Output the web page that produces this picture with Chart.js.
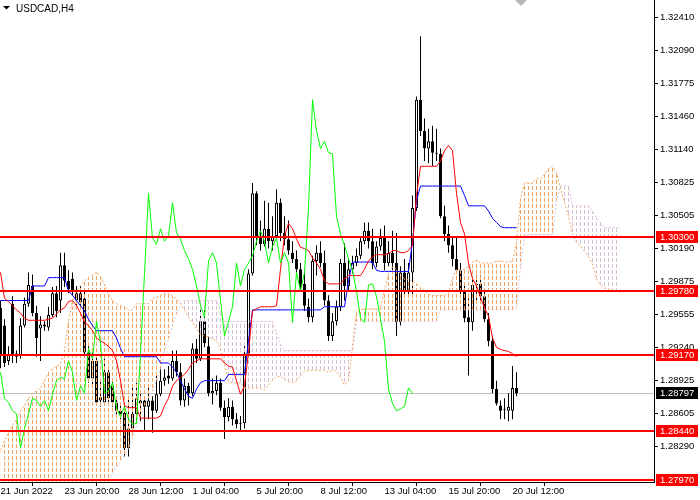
<!DOCTYPE html>
<html>
<head>
<meta charset="utf-8">
<title>USDCAD,H4</title>
<script src="https://cdn.jsdelivr.net/npm/chart.js@4.4.1/dist/chart.umd.min.js"></script>
<style>
  html, body { margin: 0; padding: 0; background: #fff; }
  canvas { display: block; }
</style>
</head>
<body>
<canvas id="chart" width="700" height="500"></canvas>
<script>
// ---- data ----
const symbol = 'USDCAD,H4';
const xTickIdx = [0, 16, 32, 48, 64, 80, 96, 112, 128];
const xTickLabels = ['21 Jun 2022', '23 Jun 20:00', '28 Jun 12:00', '1 Jul 04:00', '5 Jul 20:00',
                     '8 Jul 12:00', '13 Jul 04:00', '15 Jul 20:00', '20 Jul 12:00'];
const yTicks = [1.32410, 1.32090, 1.31775, 1.31460, 1.31140, 1.30825, 1.30505,
                1.30190, 1.29875, 1.29555, 1.29240, 1.28925, 1.28605, 1.28290];
const levels = [1.30300, 1.29780, 1.29170, 1.28440, 1.27970];
const bid = 1.28797;

const opens = [
  1.2962,1.2945,1.2911,1.2966,1.2915,1.2916,1.2945,1.2966,1.2983,1.2957,
  1.2942,1.2944,1.2943,1.2955,1.2976,1.2969,1.3003,1.2988,1.2990,1.2969,
  1.2976,1.2971,1.2919,1.2894,1.2911,1.2873,1.2871,1.2900,1.2887,1.2871,
  1.2863,1.2861,1.2827,1.2846,1.2860,1.2870,1.2873,1.2867,1.2873,1.2863,
  1.2879,1.2892,1.2897,1.2894,1.2911,1.2900,1.2873,1.2887,1.2880,1.2923,
  1.2913,1.2949,1.2925,1.2880,1.2882,1.2890,1.2866,1.2857,1.2867,1.2855,
  1.2850,1.2851,1.2918,1.2995,1.3072,1.3029,1.3023,1.3038,1.3026,1.3031,
  1.3063,1.3034,1.3028,1.3015,1.3009,1.2999,1.2985,1.2963,1.2953,1.3007,
  1.3015,1.3005,1.2969,1.2935,1.2949,1.2963,1.3005,1.2983,1.2999,1.3005,
  1.3012,1.3026,1.3036,1.3026,1.3005,1.3021,1.3029,1.3005,1.3015,1.3005,
  1.2948,1.2996,1.2978,1.2996,1.3058,1.3162,1.3132,1.3115,1.3122,1.3111,
  1.3110,1.3050,1.3033,1.3022,1.3009,1.2998,1.2978,1.2953,1.2948,1.2984,
  1.2985,1.2973,1.2951,1.2930,1.2884,1.2868,1.2864,1.2863,1.2863,1.2885];
const highs = [
  1.2969,1.2951,1.2925,1.2973,1.2921,1.2952,1.2972,1.2996,1.2994,1.2964,
  1.2954,1.2949,1.2963,1.2982,1.2983,1.3015,1.3015,1.2998,1.2996,1.2983,
  1.2983,1.2978,1.2925,1.2919,1.2916,1.2892,1.2913,1.2906,1.2894,1.2877,
  1.2868,1.2868,1.2877,1.2887,1.2890,1.2880,1.2877,1.2885,1.2877,1.2897,
  1.2906,1.2903,1.2906,1.2921,1.2921,1.2909,1.2894,1.2890,1.2928,1.2932,
  1.2964,1.2964,1.2935,1.2894,1.2897,1.2894,1.2873,1.2875,1.2873,1.2861,
  1.2858,1.2925,1.2999,1.3082,1.3074,1.3046,1.3065,1.3063,1.3050,1.3076,
  1.3067,1.3050,1.3046,1.3026,1.3017,1.3005,1.2998,1.2971,1.3012,1.3022,
  1.3026,1.3017,1.2974,1.2957,1.2969,1.3009,1.3024,1.3009,1.3012,1.3019,
  1.3030,1.3044,1.3044,1.3038,1.3026,1.3038,1.3041,1.3026,1.3036,1.3034,
  1.3002,1.3009,1.3005,1.3070,1.3165,1.3223,1.3144,1.3134,1.3137,1.3134,
  1.3115,1.3060,1.3041,1.3031,1.3031,1.3005,1.2986,1.2971,1.2990,1.2993,
  1.2993,1.2978,1.2957,1.2935,1.2892,1.2873,1.2875,1.2880,1.2906,1.2900];
const lows = [
  1.2904,1.2905,1.2907,1.2909,1.2909,1.2913,1.2943,1.2963,1.2954,1.2915,
  1.2911,1.2940,1.2940,1.2953,1.2953,1.2957,1.2982,1.2976,1.2974,1.2964,
  1.2963,1.2915,1.2890,1.2886,1.2868,1.2867,1.2868,1.2870,1.2867,1.2858,
  1.2855,1.2819,1.2819,1.2842,1.2853,1.2853,1.2844,1.2855,1.2842,1.2861,
  1.2877,1.2887,1.2889,1.2892,1.2896,1.2868,1.2867,1.2868,1.2877,1.2909,
  1.2911,1.2924,1.2877,1.2869,1.2878,1.2863,1.2836,1.2853,1.2849,1.2846,
  1.2844,1.2846,1.2916,1.2993,1.3022,1.3017,1.3021,1.3019,1.3017,1.3028,
  1.3026,1.3022,1.3013,1.3005,1.2996,1.2978,1.2959,1.2948,1.2948,1.2993,
  1.3001,1.2964,1.2930,1.2930,1.2945,1.2959,1.2969,1.2978,1.2995,1.3002,
  1.3009,1.3023,1.3019,1.2999,1.3001,1.3017,1.2998,1.3002,1.2996,1.2935,
  1.2945,1.2973,1.2974,1.2974,1.3055,1.3127,1.3103,1.3101,1.3098,1.3103,
  1.3048,1.3026,1.3015,1.3002,1.2996,1.2974,1.2948,1.2897,1.2940,1.2969,
  1.2969,1.2948,1.2925,1.2880,1.2868,1.2855,1.2855,1.2853,1.2855,1.2877];
const closes = [
  1.2916,1.2909,1.2917,1.2916,1.2918,1.2945,1.2966,1.2984,1.2957,1.2933,
  1.2946,1.2946,1.2955,1.2976,1.2959,1.3003,1.2988,1.2980,1.2978,1.2976,
  1.2967,1.2919,1.2894,1.2911,1.2871,1.2876,1.2900,1.2875,1.2871,1.2863,
  1.2860,1.2827,1.2846,1.2860,1.2875,1.2873,1.2867,1.2873,1.2863,1.2879,
  1.2892,1.2895,1.2894,1.2911,1.2900,1.2873,1.2887,1.2880,1.2923,1.2913,
  1.2949,1.2928,1.2880,1.2882,1.2890,1.2866,1.2857,1.2867,1.2855,1.2850,
  1.2851,1.2918,1.2995,1.3072,1.3029,1.3023,1.3038,1.3026,1.3031,1.3063,
  1.3034,1.3028,1.3017,1.3009,1.2999,1.2983,1.2964,1.2953,1.3007,1.3015,
  1.3005,1.2969,1.2935,1.2949,1.2963,1.3005,1.2983,1.2999,1.3005,1.3012,
  1.3026,1.3036,1.3026,1.3005,1.3021,1.3029,1.3005,1.3015,1.3005,1.2948,
  1.2996,1.2978,1.2996,1.3058,1.3162,1.3132,1.3115,1.3122,1.3111,1.3110,
  1.3050,1.3033,1.3022,1.3009,1.2998,1.2978,1.2952,1.2948,1.2984,1.2985,
  1.2973,1.2951,1.2930,1.2884,1.2870,1.2863,1.2865,1.2867,1.2885,1.28797];

// Ichimoku lines as drawn
const tenkan = [
  1.2996,1.2971,1.2968,1.2964,1.2960,1.2957,1.2952,1.2950,1.2950,1.2950,
  1.2950,1.2950,1.2951,1.2952,1.2956,1.2960,1.2962,1.2968,1.2969,1.2964,
  1.2957,1.2948,1.2945,1.2940,1.2933,1.2930,1.2928,1.2925,1.2921,1.2911,
  1.2892,1.2868,1.2866,1.2866,1.2866,1.2856,1.2856,1.2856,1.2856,1.2856,
  1.2858,1.2868,1.2875,1.2887,1.2892,1.2895,1.2898,1.2903,1.2909,1.2911,
  1.2913,1.2913,1.2913,1.2913,1.2913,1.2913,1.2909,1.2906,1.2905,1.2892,
  1.2879,1.2887,1.2919,1.2959,1.2961,1.2963,1.2963,1.2963,1.2963,1.2964,
  1.2999,1.3031,1.3043,1.3038,1.3028,1.3020,1.3019,1.3017,1.3010,1.3005,
  1.2999,1.2988,1.2985,1.2985,1.2985,1.2985,1.2990,1.2993,1.2993,1.2993,
  1.2993,1.2999,1.3007,1.3011,1.3013,1.3013,1.3013,1.3014,1.3017,1.3017,
  1.3015,1.3015,1.3017,1.3022,1.3070,1.3098,1.3098,1.3098,1.3098,1.3098,
  1.3103,1.3113,1.3118,1.3113,1.3072,1.3044,1.3033,1.3005,1.2990,1.2983,
  1.2972,1.2962,1.2954,1.2933,1.2924,1.2922,1.2921,1.2920,1.2918,1.2915];
const kijun = [
  1.2969,1.2969,1.2969,1.2969,1.2969,1.2969,1.2969,1.2969,1.2983,1.2983,
  1.2983,1.2983,1.2991,1.2991,1.2991,1.2991,1.2991,1.2978,1.2974,1.2969,
  1.2964,1.2959,1.2951,1.2945,1.2940,1.2940,1.2940,1.2940,1.2940,1.2933,
  1.2923,1.2915,1.2915,1.2915,1.2915,1.2915,1.2915,1.2915,1.2915,1.2915,
  1.2909,1.2909,1.2909,1.2905,1.2900,1.2892,1.2884,1.2877,1.2875,1.2884,
  1.2890,1.2892,1.2892,1.2892,1.2892,1.2892,1.2892,1.2898,1.2898,1.2898,
  1.2898,1.2898,1.2930,1.2960,1.2960,1.2960,1.2960,1.2960,1.2960,1.2960,
  1.2960,1.2960,1.2960,1.2960,1.2960,1.2960,1.2960,1.2960,1.2960,1.2960,
  1.2960,1.2963,1.2963,1.2963,1.2963,1.2963,1.2963,1.2988,1.3006,1.3006,
  1.3006,1.3006,1.3006,1.3006,1.2998,1.2997,1.2997,1.2997,1.2997,1.2997,
  1.2997,1.2997,1.2997,1.3026,1.3065,1.3079,1.3079,1.3079,1.3079,1.3079,
  1.3079,1.3079,1.3079,1.3079,1.3079,1.3079,1.3070,1.3060,1.3060,1.3060,
  1.3060,1.3060,1.3055,1.3048,1.3044,1.3040,1.3039,1.3039,1.3039,1.3039];
// cloud edges, 26 bars run past the last candle
const spanA = [
  1.2825,1.2834,1.2842,1.2849,1.2855,1.2863,1.2868,1.2875,1.2880,1.2882,
  1.2885,1.2892,1.2900,1.2903,1.2906,1.2908,1.2921,1.2949,1.2969,1.2978,
  1.2983,1.2988,1.2991,1.2994,1.2996,1.2992,1.2984,1.2975,1.2969,1.2966,
  1.2964,1.2963,1.2960,1.2960,1.2966,1.2966,1.2966,1.2966,1.2971,1.2972,
  1.2974,1.2976,1.2976,1.2973,1.2971,1.2966,1.2960,1.2953,1.2948,1.2942,
  1.2936,1.2935,1.2934,1.2932,1.2930,1.2922,1.2907,1.2891,1.2890,1.2890,
  1.2890,1.2885,1.2885,1.2885,1.2885,1.2885,1.2883,1.2888,1.2892,1.2896,
  1.2896,1.2893,1.2891,1.2890,1.2892,1.2897,1.2901,1.2902,1.2902,1.2902,
  1.2902,1.2902,1.2900,1.2902,1.2901,1.2895,1.2888,1.2892,1.2924,1.2959,
  1.2960,1.2961,1.2961,1.2961,1.2961,1.2962,1.2979,1.2995,1.3001,1.2999,
  1.2994,1.2990,1.2989,1.2988,1.2985,1.2982,1.2979,1.2975,1.2974,1.2974,
  1.2974,1.2974,1.2976,1.2990,1.2999,1.2999,1.2999,1.3002,1.3006,1.3008,
  1.3005,1.3005,1.3005,1.3005,1.3007,1.3007,1.3006,1.3006,1.3007,1.3024,
  1.3067,1.3082,1.3082,1.3082,1.3086,1.3086,1.3090,1.3096,1.3098,1.3092,
  1.3077,1.3063,1.3050,1.3033,1.3025,1.3021,1.3016,1.3011,1.3004,1.2990,
  1.2984,1.2981,1.2980,1.2979,1.2978,1.2977];
const spanB = [
  1.2785,1.2785,1.2785,1.2785,1.2785,1.2785,1.2785,1.2785,1.2785,1.2785,
  1.2785,1.2785,1.2785,1.2785,1.2785,1.2785,1.2785,1.2785,1.2785,1.2785,
  1.2785,1.2785,1.2785,1.2785,1.2785,1.2785,1.2785,1.2794,1.2803,1.2809,
  1.2815,1.2820,1.2827,1.2837,1.2849,1.2858,1.2868,1.2875,1.2882,1.2892,
  1.2903,1.2921,1.2932,1.2945,1.2956,1.2966,1.2969,1.2969,1.2969,1.2969,
  1.2969,1.2969,1.2969,1.2969,1.2969,1.2959,1.2949,1.2949,1.2949,1.2949,
  1.2949,1.2949,1.2949,1.2949,1.2949,1.2949,1.2949,1.2949,1.2949,1.2938,
  1.2927,1.2921,1.2921,1.2921,1.2921,1.2921,1.2921,1.2921,1.2921,1.2921,
  1.2921,1.2921,1.2921,1.2921,1.2921,1.2921,1.2921,1.2921,1.2921,1.2949,
  1.2949,1.2949,1.2949,1.2949,1.2949,1.2949,1.2949,1.2949,1.2949,1.2949,
  1.2949,1.2949,1.2949,1.2949,1.2949,1.2949,1.2949,1.2949,1.2949,1.2949,
  1.2960,1.2960,1.2960,1.2960,1.2960,1.2960,1.2960,1.2960,1.2960,1.2960,
  1.2960,1.2960,1.2960,1.2960,1.2960,1.2960,1.2960,1.2960,1.2960,1.2962,
  1.3002,1.3032,1.3032,1.3032,1.3032,1.3032,1.3032,1.3032,1.3032,1.3065,
  1.3079,1.3079,1.3079,1.3060,1.3060,1.3060,1.3060,1.3060,1.3055,1.3048,
  1.3044,1.3039,1.3039,1.3039,1.3039,1.3039];
const chikouShift = 26;

// ---- chart ----
const canvas = document.getElementById('chart');
const ctx = canvas.getContext('2d');

// vertical dashed hatch, one stroke per bar (4px apart)
function hatch(color) {
  const tile = document.createElement('canvas');
  tile.width = 4; tile.height = 6;
  const g = tile.getContext('2d');
  g.fillStyle = color;
  g.fillRect(0, 0, 1, 4);
  return ctx.createPattern(tile, 'repeat');
}

const pts = arr => arr.map((v, i) => ({ x: i, y: v }));
const wicks = closes.map((_, i) => ({ x: i, y: [lows[i], highs[i]] }));
const bodies = closes.map((c, i) => ({ x: i, y: [opens[i], c] }));
const bodyFill = closes.map((c, i) => (c >= opens[i] ? '#ffffff' : '#000000'));
const chikou = closes.slice(chikouShift).map((v, j) => ({ x: j, y: v }));

Chart.defaults.font.family = '"Liberation Sans", Arial, sans-serif';
Chart.defaults.font.size = 9.5;
Chart.defaults.color = '#000';

const overlay = {
  id: 'overlay',
  beforeDatasetsDraw(chart) {
    const { ctx, chartArea: a, scales: { y } } = chart;
    const py = Math.round(y.getPixelForValue(bid)) + 0.5;
    ctx.save();
    ctx.strokeStyle = '#c0c0c0';
    ctx.lineWidth = 1;
    ctx.beginPath();
    ctx.moveTo(a.left, py);
    ctx.lineTo(a.right, py);
    ctx.stroke();
    ctx.restore();
  },
  afterDatasetsDraw(chart) {
    const { ctx, chartArea: a, scales: { y } } = chart;
    ctx.save();
    ctx.fillStyle = '#ff0000';
    levels.forEach(v => {
      const py = Math.round(y.getPixelForValue(v));
      ctx.fillRect(a.left, py - 1, a.right - a.left, 2);
    });
    ctx.restore();
  },
  afterDraw(chart) {
    const { ctx, chartArea: a, scales: { y } } = chart;
    ctx.save();
    const tag = (v, bg) => {
      const py = Math.round(y.getPixelForValue(v));
      ctx.fillStyle = bg;
      ctx.fillRect(a.right + 2, py - 6, 42, 12);
      ctx.fillStyle = '#ffffff';
      ctx.font = '9.5px "Liberation Sans", Arial, sans-serif';
      ctx.textBaseline = 'middle';
      ctx.textAlign = 'left';
      ctx.fillText(v.toFixed(5), a.right + 6, py + 0.5);
    };
    levels.forEach(v => tag(v, '#ff0000'));
    tag(bid, '#000000');

    // symbol caption
    ctx.fillStyle = '#000';
    ctx.beginPath();
    ctx.moveTo(3, 6); ctx.lineTo(10, 6); ctx.lineTo(6.5, 9.5);
    ctx.closePath();
    ctx.fill();
    ctx.font = '10px "Liberation Sans", Arial, sans-serif';
    ctx.textBaseline = 'alphabetic';
    ctx.fillText(symbol, 16, 12);

    // chart shift marker
    ctx.fillStyle = '#b8b8b8';
    ctx.beginPath();
    ctx.moveTo(515, 0); ctx.lineTo(527, 0); ctx.lineTo(521, 6);
    ctx.closePath();
    ctx.fill();
    ctx.restore();
  }
};

new Chart(ctx, {
  type: 'bar',
  data: {
    datasets: [
      { type: 'bar', data: wicks, backgroundColor: '#000', borderWidth: 0,
        barThickness: 1, grouped: false, inflateAmount: 0, order: 20 },
      { type: 'bar', data: bodies, backgroundColor: bodyFill, borderColor: '#000',
        borderWidth: 1, borderSkipped: false, barThickness: 3, minBarLength: 1,
        grouped: false, inflateAmount: 0, order: 19 },
      { type: 'line', data: pts(spanA), borderColor: '#F4A460', borderWidth: 1,
        borderDash: [2, 2], pointRadius: 0, tension: 0,
        fill: { target: '+1', above: hatch('#F4A460'), below: hatch('#D8BFD8') }, order: 7 },
      { type: 'line', data: pts(spanB), borderColor: '#D8BFD8', borderWidth: 1,
        borderDash: [2, 2], pointRadius: 0, tension: 0, fill: false, order: 8 },
      { type: 'line', data: pts(kijun), borderColor: '#0000FF', borderWidth: 1,
        pointRadius: 0, tension: 0, fill: false, order: 4 },
      { type: 'line', data: pts(tenkan), borderColor: '#FF0000', borderWidth: 1,
        pointRadius: 0, tension: 0, fill: false, order: 3 },
      { type: 'line', data: chikou, borderColor: '#00FF00', borderWidth: 1,
        pointRadius: 0, tension: 0, fill: false, order: 2 }
    ]
  },
  options: {
    responsive: false,
    animation: false,
    devicePixelRatio: 1,
    events: [],
    layout: { padding: 0 },
    plugins: { legend: { display: false }, tooltip: { enabled: false } },
    scales: {
      x: {
        type: 'linear', min: -0.125, max: 163.375, offset: false,
        grid: { drawOnChartArea: false, drawTicks: true, tickLength: 4, color: '#000' },
        border: { display: true, color: '#000' },
        ticks: { align: 'start', autoSkip: false, maxRotation: 0, padding: 0,
                 callback: (v, k) => xTickLabels[k] },
        afterBuildTicks: s => { s.ticks = xTickIdx.map(v => ({ value: v })); },
        afterFit: s => { s.height = 18; s.paddingLeft = 0; s.paddingRight = 0; }
      },
      y: {
        type: 'linear', position: 'right', min: 1.27946, max: 1.32578,
        grid: { drawOnChartArea: false, drawTicks: true, tickLength: 4, color: '#000' },
        border: { display: true, color: '#000' },
        ticks: { autoSkip: false, padding: 2, callback: v => v.toFixed(5) },
        afterBuildTicks: s => { s.ticks = yTicks.map(v => ({ value: v })); },
        afterFit: s => { s.width = 46; s.paddingTop = 0; s.paddingBottom = 0; }
      }
    }
  },
  plugins: [overlay]
});
</script>
</body>
</html>
